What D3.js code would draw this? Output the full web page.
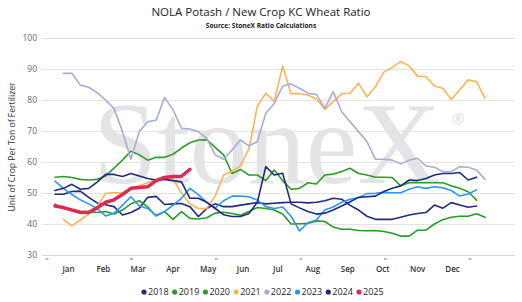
<!DOCTYPE html>
<html>
<head>
<meta charset="utf-8">
<script src="https://cdn.jsdelivr.net/npm/d3@7"></script>
<style>
  body { margin: 0; background: #fff; }
  svg { display: block; font-family: "Open Sans", "Noto Sans", sans-serif; }
</style>
</head>
<body>
<svg id="chart" width="522" height="302"></svg>
<script>
// chart data, weekly values (index = week of year), null = no value
var months = ['Jan','Feb','Mar','Apr','May','Jun','Jul','Aug','Sep','Oct','Nov','Dec'];
var yTicks = [30, 40, 50, 60, 70, 80, 90, 100];
var years = ['2018','2019','2020','2021','2022','2023','2024','2025'];
var yearColors = ['#1f2b7b','#259c25','#2a9d2a','#f9b454','#a9abd6','#2f95f2','#1f2b7b','#db2a54'];

var s2018 = [49.6,49.6,50.5,50.6,48.6,46.8,46.2,45.6,42.9,43.7,45.1,48.6,48.9,46.3,46.5,46.6,45.6,42.4,45,46.5,
  45.6,45.6,46.1,46.5,46.9,46.5,46.7,46.9,47,47,46.8,47,47.5,48.3,48,46,44.5,42.5,41.5,41.5,
  41.5,42.2,42.9,43.4,43.7,46.1,45.1,46.9,46.1,45.4,45.8];
var s2019 = [46.4,45,44.5,44,44,43.7,44,43.2,44.5,46.5,47.5,45.5,42.6,44,41.5,44,41.8,41.6,42,43.5,
  43.8,43.4,42.8,44,45.3,45,44.5,43.2,40,40.1,40.2,41,40.8,39,38.3,38.3,37.9,37.8,37.9,37.6,
  37,36.1,36.1,38,38,40,41.4,42.2,42.5,42.5,43.3,42.2];
var s2020 = [55.1,55.3,55,54.4,54.2,54.4,55.5,58,60.6,63.5,62.3,60.6,61.5,61.5,62.5,64.5,66.2,67.1,67.2,64.7,
  62.3,56.3,57.6,55.8,55.8,54,57.4,54,51.2,51.5,53.3,52.9,55.8,56.1,56.9,58,56.3,55.8,55.1,55.1,
  55,52.3,53.3,53.3,53.3,53.3,53.3,52.3,51.5,50.4,47.7];
var s2021 = [null,41.5,39.4,41.3,43.2,45.6,49.9,50.1,50.1,51.5,52.3,53.3,54.5,55.3,54.5,50,46.5,45,45,49,
  55.8,57,58.8,64.2,78,82.2,79.5,91,82,82,81.6,80.3,77,79.5,82,82.2,85.4,81,84.3,89,
  90.5,92.4,91,87.7,87.5,84.5,83.8,80.2,83.2,86.5,85.9,80.5];
var s2022 = [null,88.6,88.6,84.8,84.1,82.4,80,77.3,69.8,60.9,69.8,73,73.5,80.8,76.8,70.9,70.6,69.8,67.6,62.3,
  60.9,63.9,67.1,65.2,66.6,75.7,78.9,84.5,85.2,83.8,82.2,81.8,77.3,82.7,76.2,73,69.8,66.6,60.9,60.9,
  60.6,59.4,60.6,61.2,58.7,58.3,56.9,56.9,58.5,58.3,57.4,54.4];
var s2023 = [53.8,51.5,49.5,47.8,46.5,45,42.6,43.5,46,48.8,45.8,45,42.8,44,46.1,48.3,51.5,49.5,47,45.2,
  47.5,49,49,48.8,47.7,45.6,45,45.5,42.5,37.8,40.4,41.3,44.5,45.5,47,48,48.5,49.8,49.9,50.2,
  50.1,50.1,51.2,52,51.5,52,51.7,50.8,49,49.7,51];
var s2024 = [50.8,51.5,52.8,51.2,51.5,53.5,56,56,55.3,56.3,55.5,54.7,54.2,54.4,54,53.6,48.3,48.3,47,45,
  43,42.4,42.4,43.4,47,58.5,55.8,56.4,46.5,45.2,44,43.2,43.5,44.5,45.8,47.2,48.6,48.8,49,50.5,
  51.5,52.3,54.2,54,54.7,55.8,56.3,56.3,56.6,54.2,55.1];
var s2025 = [45.8,45.3,44.5,43.8,43.7,45.2,47,47.8,49.5,51.5,51.8,52,54,55,55.3,55.4,57.6];

var allSeries = [s2018, s2019, s2020, s2021, s2022, s2023, s2024, s2025];

var svg = d3.select('#chart');

// scales
var x = d3.scaleLinear().domain([0, 51]).range([55, 485]);
var xMonth = d3.scaleBand().domain(months).range([51, 470]);
var y = d3.scaleLinear().domain([30, 100]).range([255, 38]);
var xLegend = d3.scalePoint().domain(years).range([144, 359]);
var xStub = d3.scaleLinear().domain([0, 5]).range([47, 470]);

// watermark
svg.append('text')
  .attr('x', 93)
  .attr('y', 183)
  .style('font-family', '"Liberation Serif", "DejaVu Serif", serif')
  .style('font-size', '116px')
  .style('fill', '#e4e4e6')
  .text('StoneX');

svg.append('text')
  .attr('x', 452)
  .attr('y', 124)
  .style('font-size', '15px')
  .style('fill', '#dedede')
  .text('\u00AE');

// gridlines
svg.append('g')
  .selectAll('line')
  .data(yTicks)
  .enter()
  .append('line')
  .attr('x1', 42)
  .attr('x2', 515)
  .attr('y1', function(d){ return y(d) + 0.5; })
  .attr('y2', function(d){ return y(d) + 0.5; })
  .style('stroke', function(d){ return d === 30 ? '#d6d6d6' : '#e3e3e3'; })
  .style('stroke-width', 1);

// y tick labels
svg.append('g')
  .selectAll('text')
  .data(yTicks)
  .enter()
  .append('text')
  .attr('x', 37)
  .attr('y', function(d){ return y(d) + 3; })
  .attr('text-anchor', 'end')
  .style('font-size', '8.5px')
  .style('fill', '#666')
  .text(function(d){ return d; });

// y title
svg.append('text')
  .attr('transform', 'translate(15,147) rotate(-90)')
  .attr('text-anchor', 'middle')
  .style('font-size', '8.6px')
  .style('fill', '#333')
  .text('Unit of Crop Per Ton of Fertilizer');

// little clipped stubs under the axis
svg.append('g')
  .selectAll('line')
  .data(d3.range(6))
  .enter()
  .append('line')
  .attr('x1', function(d){ return xStub(d) - 1.5; })
  .attr('x2', function(d){ return xStub(d) + 1.5; })
  .attr('y1', 259)
  .attr('y2', 259)
  .style('stroke', '#777')
  .style('stroke-width', 1);

// month labels
svg.append('g')
  .selectAll('text')
  .data(months)
  .enter()
  .append('text')
  .attr('x', function(d){ return xMonth(d) + xMonth.bandwidth() / 2; })
  .attr('y', 272)
  .attr('text-anchor', 'middle')
  .style('font-size', '8px')
  .style('font-weight', 600)
  .style('fill', '#333')
  .text(function(d){ return d; });

// lines
var line = d3.line()
  .defined(function(d){ return d !== null; })
  .x(function(d, i){ return x(i); })
  .y(function(d){ return y(d); });

svg.append('g')
  .selectAll('path')
  .data(allSeries)
  .enter()
  .append('path')
  .attr('d', line)
  .style('fill', 'none')
  .style('stroke', function(d, i){ return yearColors[i]; })
  .style('stroke-width', function(d, i){ return years[i] === '2025' ? 3.5 : 1.6; })
  .style('stroke-linejoin', 'round')
  .style('stroke-linecap', 'round');

// title
svg.append('text')
  .attr('x', 261)
  .attr('y', 16)
  .attr('text-anchor', 'middle')
  .style('font-size', '11.5px')
  .style('fill', '#222')
  .text('NOLA Potash / New Crop KC Wheat Ratio');

svg.append('text')
  .attr('x', 261)
  .attr('y', 28)
  .attr('text-anchor', 'middle')
  .style('font-size', '6.6px')
  .style('font-weight', 700)
  .style('fill', '#222')
  .text('Source: StoneX Ratio Calculations');

// legend
var legend = svg.append('g')
  .selectAll('g')
  .data(years)
  .enter()
  .append('g')
  .attr('transform', function(d){ return 'translate(' + xLegend(d) + ',292)'; });

legend.append('circle')
  .attr('r', 2.6)
  .style('fill', function(d, i){ return yearColors[i]; });

legend.append('text')
  .attr('x', 4)
  .attr('y', 3.2)
  .style('font-size', '9px')
  .style('fill', '#222')
  .text(function(d){ return d; });
</script>
</body>
</html>
